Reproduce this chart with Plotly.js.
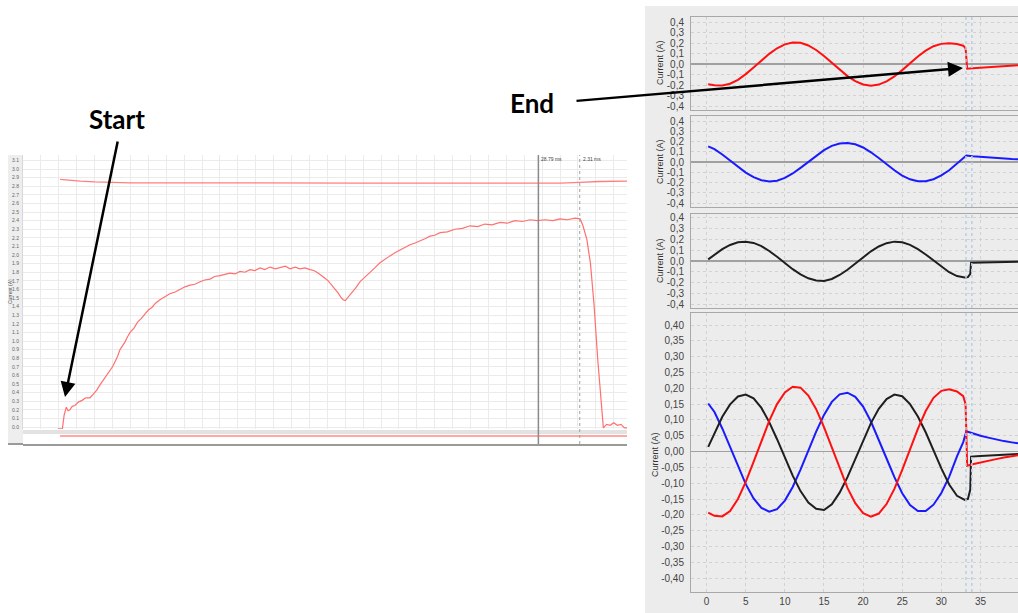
<!DOCTYPE html>
<html><head><meta charset="utf-8">
<script src="https://cdn.plot.ly/plotly-3.0.1.min.js"></script>
<style>html,body{margin:0;padding:0;background:#fff;} #chart{width:1018px;height:613px;}</style>
</head><body><div id="chart"></div>
<script>
// ---------- Left chart: start-up current (time in ms, current in A) ----------
const startTime = [
  1.95, 2.20, 2.30, 2.42, 2.52, 2.62, 2.75, 2.90, 3.09, 3.30,
  3.50, 3.74, 3.92, 4.12, 4.30, 4.49, 4.68, 4.86, 5.00, 5.14,
  5.28, 5.42, 5.56, 5.70, 5.84, 5.98, 6.20, 6.40, 6.60, 6.80,
  7.00, 7.20, 7.40, 7.65, 7.90, 8.20, 8.50, 8.77, 9.05, 9.33,
  9.60, 9.89, 10.15, 10.45, 10.70, 11.00, 11.30, 11.56, 11.85, 12.12,
  12.40, 12.68, 12.95, 13.24, 13.50, 13.80, 14.10, 14.36, 14.65, 14.92,
  15.20, 15.47, 15.75, 16.03, 16.25, 16.48, 16.70, 16.87, 17.05, 17.26,
  17.45, 17.60, 17.75, 17.88, 18.00, 18.12, 18.25, 18.38, 18.60, 18.83,
  19.10, 19.39, 19.65, 19.94, 20.20, 20.50, 20.80, 21.06, 21.35, 21.62,
  21.90, 22.18, 22.45, 22.74, 23.00, 23.30, 23.70, 24.13, 24.55, 24.97,
  25.40, 25.80, 26.20, 26.65, 27.05, 27.49, 27.90, 28.32, 28.75, 29.16,
  29.60, 30.00, 30.40, 30.84, 31.12, 31.28, 31.50, 31.70, 31.90, 32.10,
  32.30, 32.42, 32.60, 32.80, 33.00, 33.20, 33.40, 33.60, 33.74
];
const startCurrent = [
  -0.02, -0.02, 0.14, 0.23, 0.19, 0.20, 0.24, 0.25, 0.29, 0.31,
  0.34, 0.34, 0.38, 0.43, 0.49, 0.55, 0.61, 0.66, 0.70, 0.76,
  0.82, 0.90, 0.94, 0.99, 1.05, 1.10, 1.15, 1.22, 1.26, 1.31,
  1.36, 1.39, 1.44, 1.48, 1.51, 1.55, 1.57, 1.60, 1.63, 1.65,
  1.66, 1.69, 1.71, 1.72, 1.75, 1.76, 1.78, 1.79, 1.78, 1.81,
  1.80, 1.83, 1.82, 1.85, 1.83, 1.86, 1.84, 1.85, 1.87, 1.84,
  1.86, 1.84, 1.85, 1.83, 1.82, 1.79, 1.76, 1.73, 1.70, 1.65,
  1.60, 1.56, 1.51, 1.48, 1.47, 1.50, 1.53, 1.57, 1.62, 1.69,
  1.74, 1.80, 1.85, 1.91, 1.95, 1.99, 2.03, 2.06, 2.09, 2.12,
  2.14, 2.17, 2.19, 2.22, 2.23, 2.26, 2.27, 2.30, 2.31, 2.34,
  2.33, 2.36, 2.35, 2.38, 2.37, 2.40, 2.39, 2.41, 2.40, 2.41,
  2.40, 2.42, 2.41, 2.43, 2.42, 2.34, 2.18, 1.90, 1.42, 0.80,
  0.25, -0.01, 0.03, 0.02, 0.05, 0.02, 0.03, -0.01, -0.01
];
const supplyTime = [2.07, 2.5, 3.2, 4.0, 4.86, 6.0, 8.0, 10.0, 13.0, 16.0, 19.0, 22.0, 25.0, 26.65, 28.88, 30.0, 31.1, 32.2, 33.74];
const supplyCurrent = [2.88, 2.87, 2.86, 2.85, 2.845, 2.84, 2.84, 2.838, 2.84, 2.838, 2.836, 2.835, 2.833, 2.83, 2.83, 2.835, 2.845, 2.855, 2.86];
const triggerTime = [2.07, 33.74];
const triggerLevel = [0, 0];
const leftCursorMs = [28.79, 31.10];
const leftCursorLabels = ['28.79 ms', '2.31 ms'];
const leftTickText = ['0.0','0.1','0.2','0.3','0.4','0.5','0.6','0.7','0.8','0.9','1.0','1.1','1.2','1.3','1.4','1.5',
  '1.6','1.7','1.8','1.9','2.0','2.1','2.2','2.3','2.4','2.5','2.6','2.7','2.8','2.9','3.0','3.1'];

// ---------- Right charts: three phase currents at switch-off (time in ms, current in A) ----------
const redTime = [0.2,1,2,3,4,5,6,7,8,9,10,11,12,13,14,15,16,17,18,19,20,21,22,23,24,25,26,27,28,29,30,31,32,32.8,33.1,33.3,34,35,36,37,38,39,39.8];
const redCurrent = [-0.193,-0.203,-0.205,-0.188,-0.150,-0.096,-0.033,0.034,0.097,0.150,0.187,0.205,0.202,0.177,0.134,0.077,0.012,-0.054,-0.115,-0.163,-0.195,-0.206,-0.196,-0.166,-0.118,-0.058,0.008,0.072,0.128,0.170,0.192,0.197,0.190,0.175,0.150,-0.045,-0.040,-0.034,-0.029,-0.024,-0.019,-0.015,-0.012];
const blueTime = [0.2,1,2,3,4,5,6,7,8,9,10,11,12,13,14,15,16,17,18,19,20,21,22,23,24,25,26,27,28,29,30,31,32,32.8,33.2,34,35,36,37,38,39,39.8];
const blueCurrent = [0.152,0.125,0.073,0.014,-0.047,-0.103,-0.148,-0.178,-0.190,-0.182,-0.155,-0.112,-0.057,0.003,0.063,0.116,0.157,0.181,0.186,0.173,0.142,0.095,0.039,-0.022,-0.081,-0.132,-0.169,-0.188,-0.188,-0.168,-0.131,-0.080,-0.015,0.030,0.064,0.057,0.050,0.044,0.038,0.033,0.029,0.026];
const blackTime = [0.2,1,2,3,4,5,6,7,8,9,10,11,12,13,14,15,16,17,18,19,20,21,22,23,24,25,26,27,28,29,30,31,32,33,33.4,33.7,33.8,35,36,37,38,39,39.8];
const blackCurrent = [0.015,0.058,0.110,0.149,0.174,0.180,0.168,0.138,0.093,0.039,-0.019,-0.076,-0.125,-0.161,-0.181,-0.185,-0.167,-0.130,-0.081,-0.023,0.036,0.090,0.135,0.166,0.180,0.175,0.150,0.111,0.061,0.004,-0.053,-0.104,-0.140,-0.153,-0.150,-0.120,-0.016,-0.014,-0.013,-0.011,-0.010,-0.009,-0.008];
const cursorTimes = [33.15, 33.9];
const smallTickText = ['-0,4','-0,3','-0,2','-0,1','0,0','0,1','0,2','0,3','0,4'];
const bigTickText = ['-0,40','-0,35','-0,30','-0,25','-0,20','-0,15','-0,10','-0,05','0,00','0,05','0,10','0,15','0,20','0,25','0,30','0,35','0,40'];
const timeTickText = ['0','5','10','15','20','25','30','35','40'];
const yTitle = 'Current (A)';

// ---------- helpers for layout (pixel -> paper) ----------
const W = 1018, H = 613;
const fx = v => v / W;
const fy = v => 1 - v / H;
const num = s => parseFloat(s.replace(',', '.'));

const RED = '#ff1010', BLUE = '#1a1aff', BLACK = '#1e1e1e';
const traces = [
  {x: redTime, y: redCurrent, xaxis: 'x', yaxis: 'y', mode: 'lines', line: {color: RED, width: 2}},
  {x: blueTime, y: blueCurrent, xaxis: 'x2', yaxis: 'y2', mode: 'lines', line: {color: BLUE, width: 2}},
  {x: blackTime, y: blackCurrent, xaxis: 'x3', yaxis: 'y3', mode: 'lines', line: {color: BLACK, width: 2}},
  {x: blueTime, y: blueCurrent, xaxis: 'x4', yaxis: 'y4', mode: 'lines', line: {color: BLUE, width: 2}},
  {x: blackTime, y: blackCurrent, xaxis: 'x4', yaxis: 'y4', mode: 'lines', line: {color: BLACK, width: 2}},
  {x: redTime, y: redCurrent, xaxis: 'x4', yaxis: 'y4', mode: 'lines', line: {color: RED, width: 2}},
  {x: supplyTime, y: supplyCurrent, xaxis: 'x5', yaxis: 'y5', mode: 'lines', line: {color: '#ff7f7f', width: 1.3}},
  {x: startTime, y: startCurrent, xaxis: 'x5', yaxis: 'y5', mode: 'lines', line: {color: '#ff7070', width: 1.2}},
  {x: triggerTime, y: triggerLevel, xaxis: 'x6', yaxis: 'y6', mode: 'lines', line: {color: '#ff8a8a', width: 1.5}}
];

const rightX = [-2.0, 39.8];
const tickFont = {family: 'Liberation Sans, Arial, sans-serif', size: 10, color: '#444'};
function rightXAxis(show) {
  return {
    domain: [fx(691), 1], range: rightX, tickvals: timeTickText.map(num), ticktext: timeTickText,
    showticklabels: show, ticks: '', showgrid: true, gridcolor: '#d2d2d2', griddash: 'dot', gridwidth: 1,
    zeroline: false, showline: true, mirror: true, linecolor: '#a8a8a8', linewidth: 1,
    tickfont: tickFont, ticklabelstandoff: 0, fixedrange: true
  };
}
function rightY(domain, range, tt) {
  return {
    domain: domain, range: range, tickvals: tt.map(num), ticktext: tt, ticks: '',
    showgrid: true, gridcolor: '#d2d2d2', griddash: 'dot', gridwidth: 1,
    zeroline: true, zerolinecolor: '#a0a0a0', zerolinewidth: 1.5,
    showline: true, mirror: true, linecolor: '#a8a8a8', linewidth: 1,
    tickfont: tickFont, ticklabelstandoff: 4, fixedrange: true
  };
}

const layout = {
  width: W, height: H, margin: {l: 0, r: 0, t: 0, b: 0},
  paper_bgcolor: 'rgba(0,0,0,0)', plot_bgcolor: '#ffffff',
  showlegend: false, separators: ',.',
  font: {family: 'Liberation Sans, Arial, sans-serif', color: '#333'},
  xaxis: Object.assign(rightXAxis(false), {anchor: 'y', matches: 'x4'}),
  xaxis2: Object.assign(rightXAxis(false), {anchor: 'y2', matches: 'x4'}),
  xaxis3: Object.assign(rightXAxis(false), {anchor: 'y3', matches: 'x4'}),
  xaxis4: Object.assign(rightXAxis(true), {anchor: 'y4'}),
  yaxis: Object.assign(rightY([fy(110), fy(17)], [-0.438, 0.448], smallTickText), {anchor: 'x'}),
  yaxis2: Object.assign(rightY([fy(207), fy(116)], [-0.439, 0.449], smallTickText), {anchor: 'x2'}),
  yaxis3: Object.assign(rightY([fy(308), fy(214)], [-0.437, 0.437], smallTickText), {anchor: 'x3'}),
  yaxis4: Object.assign(rightY([fy(592), fy(313)], [-0.444, 0.438], bigTickText), {anchor: 'x4'}),
  xaxis5: {
    domain: [fx(23), fx(627)], range: [0, 33.74], anchor: 'y5', dtick: 1, tick0: 0,
    showticklabels: false, ticks: '', showgrid: true, gridcolor: '#ebebeb', gridwidth: 1,
    zeroline: false, showline: false, fixedrange: true
  },
  yaxis5: {
    domain: [fy(429), fy(155)], range: [-0.023, 3.163], anchor: 'x5',
    tickvals: leftTickText.map(num), ticktext: leftTickText, ticks: '',
    tickfont: {family: 'Liberation Sans, Arial, sans-serif', size: 5, color: '#666'}, ticklabelstandoff: 2,
    showgrid: true, gridcolor: '#ebebeb', gridwidth: 1, zeroline: false,
    showline: true, linecolor: '#d8d8d8', linewidth: 1, fixedrange: true
  },
  xaxis6: {
    domain: [fx(23), fx(627)], range: [0, 33.74], anchor: 'y6', matches: 'x5',
    showticklabels: false, ticks: '', showgrid: false, zeroline: false,
    showline: true, linecolor: '#9a9a9a', linewidth: 2, fixedrange: true
  },
  yaxis6: {
    domain: [fy(444), fy(429)], range: [-8, 7], anchor: 'x6',
    showticklabels: false, ticks: '', showgrid: false, zeroline: false, showline: false, fixedrange: true
  },
  shapes: [
    {type: 'rect', xref: 'paper', yref: 'paper', x0: fx(645), x1: 1, y0: 0, y1: fy(6),
     fillcolor: '#ececec', line: {width: 0}, layer: 'below'},
    {type: 'rect', xref: 'paper', yref: 'paper', x0: fx(8), x1: fx(23), y0: fy(444), y1: fy(155),
     fillcolor: '#eeeeee', line: {width: 0}, layer: 'below'},
    {type: 'line', xref: 'paper', yref: 'paper', x0: fx(8), x1: fx(23), y0: fy(444), y1: fy(444),
     line: {color: '#9a9a9a', width: 2}},
    {type: 'rect', xref: 'x6', yref: 'y6', x0: 0, x1: 33.74, y0: 2, y1: 6,
     fillcolor: '#e2e2e2', line: {width: 0}, layer: 'below'},
    {type: 'line', xref: 'x5', yref: 'paper', x0: leftCursorMs[0], x1: leftCursorMs[0], y0: fy(444), y1: fy(155),
     line: {color: '#8a8a8a', width: 1.5}},
    {type: 'line', xref: 'x5', yref: 'paper', x0: leftCursorMs[1], x1: leftCursorMs[1], y0: fy(444), y1: fy(155),
     line: {color: '#a0a0a0', width: 1, dash: 'dot'}}
  ],
  annotations: []
};

['y', 'y2', 'y3', 'y4'].forEach((ya, i) => {
  const xa = ['x', 'x2', 'x3', 'x4'][i];
  cursorTimes.forEach(t => layout.shapes.push({
    type: 'line', xref: xa, yref: ya + ' domain', x0: t, x1: t, y0: 0, y1: 1,
    line: {color: '#b9cde8', width: 1.5, dash: 'dot'}
  }));
});

[[660, 63], [660, 162], [660, 261], [655, 455]].forEach(p => layout.annotations.push({
  xref: 'paper', yref: 'paper', x: fx(p[0]), y: fy(p[1]), xanchor: 'center', yanchor: 'middle',
  text: yTitle, textangle: -90, showarrow: false,
  font: {family: 'Liberation Sans, Arial, sans-serif', size: 9, color: '#333'}
}));
layout.annotations.push({
  xref: 'paper', yref: 'paper', x: fx(10), y: fy(292), xanchor: 'center', yanchor: 'middle',
  text: yTitle, textangle: -90, showarrow: false,
  font: {family: 'Liberation Sans, Arial, sans-serif', size: 5, color: '#555'}
});
leftCursorMs.forEach((t, i) => layout.annotations.push({
  xref: 'x5', yref: 'paper', x: t, y: fy(159), text: leftCursorLabels[i], showarrow: false,
  xanchor: 'left', yanchor: 'middle', xshift: 1,
  font: {family: 'Liberation Sans, Arial, sans-serif', size: 5, color: '#444'}
}));
const calloutFont = {family: 'Lato, Open Sans, sans-serif', size: 26, color: '#000'};
layout.annotations.push(
  {xref: 'paper', yref: 'paper', x: fx(117), y: fy(119), xanchor: 'center', yanchor: 'middle',
   text: '<b>Start</b>', showarrow: false, font: calloutFont},
  {xref: 'paper', yref: 'paper', x: fx(532), y: fy(103), xanchor: 'center', yanchor: 'middle',
   text: '<b>End</b>', showarrow: false, font: calloutFont},
  {xref: 'paper', yref: 'paper', x: fx(65), y: fy(397), ax: 118 - 65, ay: 140 - 397, text: '', showarrow: true,
   arrowhead: 2, arrowsize: 1.2, arrowwidth: 2.5, arrowcolor: '#000'},
  {xref: 'paper', yref: 'paper', x: fx(963), y: fy(68), ax: 575 - 963, ay: 101 - 68, text: '', showarrow: true,
   arrowhead: 2, arrowsize: 1.2, arrowwidth: 2.5, arrowcolor: '#000'}
);

Plotly.newPlot('chart', traces, layout, {displayModeBar: false, staticPlot: true});
</script>
</body></html>
